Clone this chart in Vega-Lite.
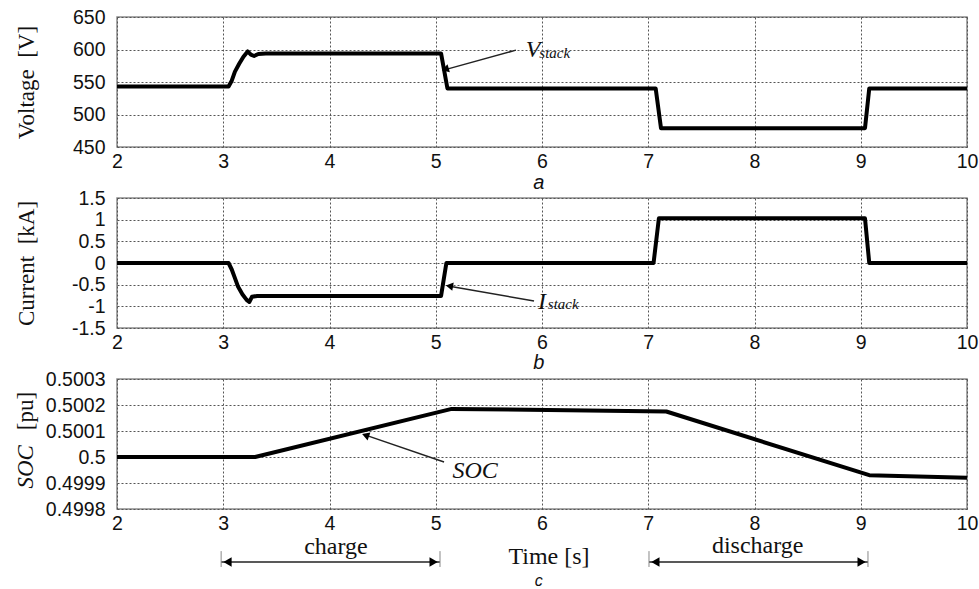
{
  "$schema": "https://vega.github.io/schema/vega-lite/v6.json",
  "padding": {"left": 14, "top": 6, "right": 5, "bottom": 0},
  "background": "white",
  "bounds": "flush",
  "spacing": 51,
  "datasets": {
    "voltage": [
      {"t": 2, "v": 543}, {"t": 3.05, "v": 543}, {"t": 3.08, "v": 552}, {"t": 3.11, "v": 566},
      {"t": 3.15, "v": 578}, {"t": 3.19, "v": 589}, {"t": 3.23, "v": 597}, {"t": 3.26, "v": 592},
      {"t": 3.29, "v": 590}, {"t": 3.33, "v": 593}, {"t": 3.4, "v": 594}, {"t": 5.05, "v": 594},
      {"t": 5.11, "v": 540}, {"t": 7.07, "v": 540}, {"t": 7.12, "v": 479}, {"t": 9.04, "v": 479},
      {"t": 9.08, "v": 540}, {"t": 10, "v": 540}
    ],
    "current": [
      {"t": 2, "v": 0}, {"t": 3.05, "v": 0}, {"t": 3.08, "v": -0.15}, {"t": 3.11, "v": -0.35},
      {"t": 3.14, "v": -0.55}, {"t": 3.18, "v": -0.72}, {"t": 3.22, "v": -0.85}, {"t": 3.245, "v": -0.9},
      {"t": 3.27, "v": -0.78}, {"t": 3.32, "v": -0.76}, {"t": 5.05, "v": -0.76}, {"t": 5.1, "v": 0},
      {"t": 7.05, "v": 0}, {"t": 7.1, "v": 1.03}, {"t": 9.04, "v": 1.03}, {"t": 9.08, "v": 0},
      {"t": 10, "v": 0}
    ],
    "soc": [
      {"t": 2, "v": 0.5}, {"t": 3.3, "v": 0.5}, {"t": 5.15, "v": 0.500185}, {"t": 7.17, "v": 0.500175},
      {"t": 9.08, "v": 0.49993}, {"t": 10, "v": 0.49992}
    ]
  },
  "config": {
    "view": {"stroke": "#8c8c8c", "strokeWidth": 1.5},
    "axis": {
      "labelFont": "Liberation Sans", "labelFontSize": 19.5, "labelColor": "#111",
      "ticks": false, "domain": false, "labelFlush": false, "labelOverlap": false,
      "gridColor": "#555", "gridDash": [2, 2], "gridWidth": 1,
      "titleFont": "Liberation Serif", "titleFontWeight": "normal", "titleFontSize": 23, "titleColor": "#111"
    },
    "axisY": {"labelPadding": 12},
    "axisX": {"labelPadding": 5}
  },
  "vconcat": [
    {
      "width": 850, "height": 130,
      "encoding": {
        "x": {"field": "t", "type": "quantitative", "scale": {"domain": [2, 10], "nice": false, "zero": false},
              "axis": {"values": [2, 3, 4, 5, 6, 7, 8, 9, 10], "title": null, "labelExpr": "''+datum.value"}},
        "y": {"field": "v", "type": "quantitative", "scale": {"domain": [450, 650], "nice": false, "zero": false},
              "axis": {"values": [450, 500, 550, 600, 650], "title": "Voltage\u00a0 [V]", "titleX": -91, "titleBaseline": "middle", "labelExpr": "''+datum.value"}}
      },
      "layer": [
        {"data": {"name": "voltage"}, "mark": {"type": "line", "color": "black", "strokeWidth": 4, "strokeJoin": "round"}},
        {"data": {"values": [{"t": 5.755, "v": 599, "t2": 5.09, "v2": 569}]},
         "mark": {"type": "rule", "color": "#222", "strokeWidth": 1.5, "clip": false},
         "encoding": {"x2": {"field": "t2"}, "y2": {"field": "v2"}}},
        {"data": {"values": [{"t": 5.1, "v": 570}]},
         "mark": {"type": "point", "shape": "triangle", "angle": 254, "filled": true, "color": "black", "size": 70, "opacity": 1}},
        {"data": {"values": [{"t": 5.915, "v": 599, "label": "V"}]},
         "mark": {"type": "text", "font": "Liberation Serif", "fontStyle": "italic", "fontSize": 24, "color": "#111", "align": "center", "baseline": "middle"},
         "encoding": {"text": {"field": "label"}}},
        {"data": {"values": [{"t": 6.12, "v": 594, "label": "stack"}]},
         "mark": {"type": "text", "font": "Liberation Serif", "fontStyle": "italic", "fontSize": 15, "color": "#111", "align": "center", "baseline": "middle"},
         "encoding": {"text": {"field": "label"}}},
        {"data": {"values": [{"t": 5.97, "v": 395, "label": "a"}]},
         "mark": {"type": "text", "font": "Liberation Sans", "fontStyle": "italic", "fontSize": 20, "color": "#111", "align": "center", "baseline": "middle", "clip": false},
         "encoding": {"text": {"field": "label"}}}
      ]
    },
    {
      "width": 850, "height": 130,
      "encoding": {
        "x": {"field": "t", "type": "quantitative", "scale": {"domain": [2, 10], "nice": false, "zero": false},
              "axis": {"values": [2, 3, 4, 5, 6, 7, 8, 9, 10], "title": null, "labelExpr": "''+datum.value"}},
        "y": {"field": "v", "type": "quantitative", "scale": {"domain": [-1.5, 1.5], "nice": false, "zero": false},
              "axis": {"values": [-1.5, -1, -0.5, 0, 0.5, 1, 1.5], "title": "Current\u00a0 [kA]", "titleX": -91, "titleBaseline": "middle", "labelExpr": "''+datum.value"}}
      },
      "layer": [
        {"data": {"name": "current"}, "mark": {"type": "line", "color": "black", "strokeWidth": 4, "strokeJoin": "round"}},
        {"data": {"values": [{"t": 5.925, "v": -0.877, "t2": 5.13, "v2": -0.535}]},
         "mark": {"type": "rule", "color": "#222", "strokeWidth": 1.5, "clip": false},
         "encoding": {"x2": {"field": "t2"}, "y2": {"field": "v2"}}},
        {"data": {"values": [{"t": 5.14, "v": -0.538}]},
         "mark": {"type": "point", "shape": "triangle", "angle": 280, "filled": true, "color": "black", "size": 70, "opacity": 1}},
        {"data": {"values": [{"t": 6.0, "v": -0.9, "label": "I"}]},
         "mark": {"type": "text", "font": "Liberation Serif", "fontStyle": "italic", "fontSize": 24, "color": "#111", "align": "center", "baseline": "middle"},
         "encoding": {"text": {"field": "label"}}},
        {"data": {"values": [{"t": 6.2, "v": -0.946, "label": "stack"}]},
         "mark": {"type": "text", "font": "Liberation Serif", "fontStyle": "italic", "fontSize": 15, "color": "#111", "align": "center", "baseline": "middle"},
         "encoding": {"text": {"field": "label"}}},
        {"data": {"values": [{"t": 5.97, "v": -2.31, "label": "b"}]},
         "mark": {"type": "text", "font": "Liberation Sans", "fontStyle": "italic", "fontSize": 20, "color": "#111", "align": "center", "baseline": "middle", "clip": false},
         "encoding": {"text": {"field": "label"}}}
      ]
    },
    {
      "width": 850, "height": 130,
      "encoding": {
        "x": {"field": "t", "type": "quantitative", "scale": {"domain": [2, 10], "nice": false, "zero": false},
              "axis": {"values": [2, 3, 4, 5, 6, 7, 8, 9, 10], "title": null, "labelExpr": "''+datum.value"}},
        "y": {"field": "v", "type": "quantitative", "scale": {"domain": [0.4998, 0.5003], "nice": false, "zero": false},
              "axis": {"values": [0.4998, 0.4999, 0.5, 0.5001, 0.5002, 0.5003], "title": null, "labelExpr": "''+datum.value"}}
      },
      "layer": [
        {"data": {"name": "soc"}, "mark": {"type": "line", "color": "black", "strokeWidth": 4, "strokeJoin": "round"}},
        {"data": {"values": [{"t": 5.078, "v": 0.499981, "t2": 4.34, "v2": 0.500084}]},
         "mark": {"type": "rule", "color": "#222", "strokeWidth": 1.5, "clip": false},
         "encoding": {"x2": {"field": "t2"}, "y2": {"field": "v2"}}},
        {"data": {"values": [{"t": 4.35, "v": 0.500082}]},
         "mark": {"type": "point", "shape": "triangle", "angle": 289, "filled": true, "color": "black", "size": 70, "opacity": 1}},
        {"data": {"values": [{"t": 5.37, "v": 0.499946, "label": "SOC"}]},
         "mark": {"type": "text", "font": "Liberation Serif", "fontStyle": "italic", "fontSize": 24, "color": "#111", "align": "center", "baseline": "middle"},
         "encoding": {"text": {"field": "label"}}},
        {"data": {"values": [{"t": 1.144, "v": 0.499962, "label": "SOC"}]},
         "mark": {"type": "text", "font": "Liberation Serif", "fontStyle": "italic", "fontSize": 23, "color": "#111", "align": "center", "baseline": "middle", "angle": 270, "clip": false},
         "encoding": {"text": {"field": "label"}}},
        {"data": {"values": [{"t": 1.144, "v": 0.500177, "label": "[pu]"}]},
         "mark": {"type": "text", "font": "Liberation Serif", "fontSize": 23, "color": "#111", "align": "center", "baseline": "middle", "angle": 270, "clip": false},
         "encoding": {"text": {"field": "label"}}},
        {"data": {"values": [{"t": 2.98, "v": 0.499596, "t2": 5.04, "v2": 0.499596}, {"t": 7.007, "v": 0.499596, "t2": 9.068, "v2": 0.499596}]},
         "mark": {"type": "rule", "color": "#222", "strokeWidth": 1.5, "clip": false},
         "encoding": {"x2": {"field": "t2"}, "y2": {"field": "v2"}}},
        {"data": {"values": [{"t": 2.98, "v": 0.499638, "t2": 2.98, "v2": 0.499577}, {"t": 5.04, "v": 0.499638, "t2": 5.04, "v2": 0.499577}, {"t": 7.007, "v": 0.499638, "t2": 7.007, "v2": 0.499577}, {"t": 9.068, "v": 0.499638, "t2": 9.068, "v2": 0.499577}]},
         "mark": {"type": "rule", "color": "#888", "strokeWidth": 1, "clip": false},
         "encoding": {"x2": {"field": "t2"}, "y2": {"field": "v2"}}},
        {"data": {"values": [{"t": 3.04, "v": 0.499596}, {"t": 7.067, "v": 0.499596}]},
         "mark": {"type": "point", "shape": "triangle-left", "filled": true, "color": "black", "size": 90, "opacity": 1, "clip": false}},
        {"data": {"values": [{"t": 4.98, "v": 0.499596}, {"t": 9.008, "v": 0.499596}]},
         "mark": {"type": "point", "shape": "triangle-right", "filled": true, "color": "black", "size": 90, "opacity": 1, "clip": false}},
        {"data": {"values": [{"t": 4.06, "v": 0.499654, "label": "charge"}, {"t": 8.03, "v": 0.499658, "label": "discharge"}, {"t": 6.066, "v": 0.499617, "label": "Time [s]"}]},
         "mark": {"type": "text", "font": "Liberation Serif", "fontSize": 24, "color": "#111", "align": "center", "baseline": "middle", "clip": false},
         "encoding": {"text": {"field": "label"}}},
        {"data": {"values": [{"t": 5.97, "v": 0.499525, "label": "c"}]},
         "mark": {"type": "text", "font": "Liberation Sans", "fontStyle": "italic", "fontSize": 16, "color": "#111", "align": "center", "baseline": "middle", "clip": false},
         "encoding": {"text": {"field": "label"}}}
      ]
    }
  ]
}
